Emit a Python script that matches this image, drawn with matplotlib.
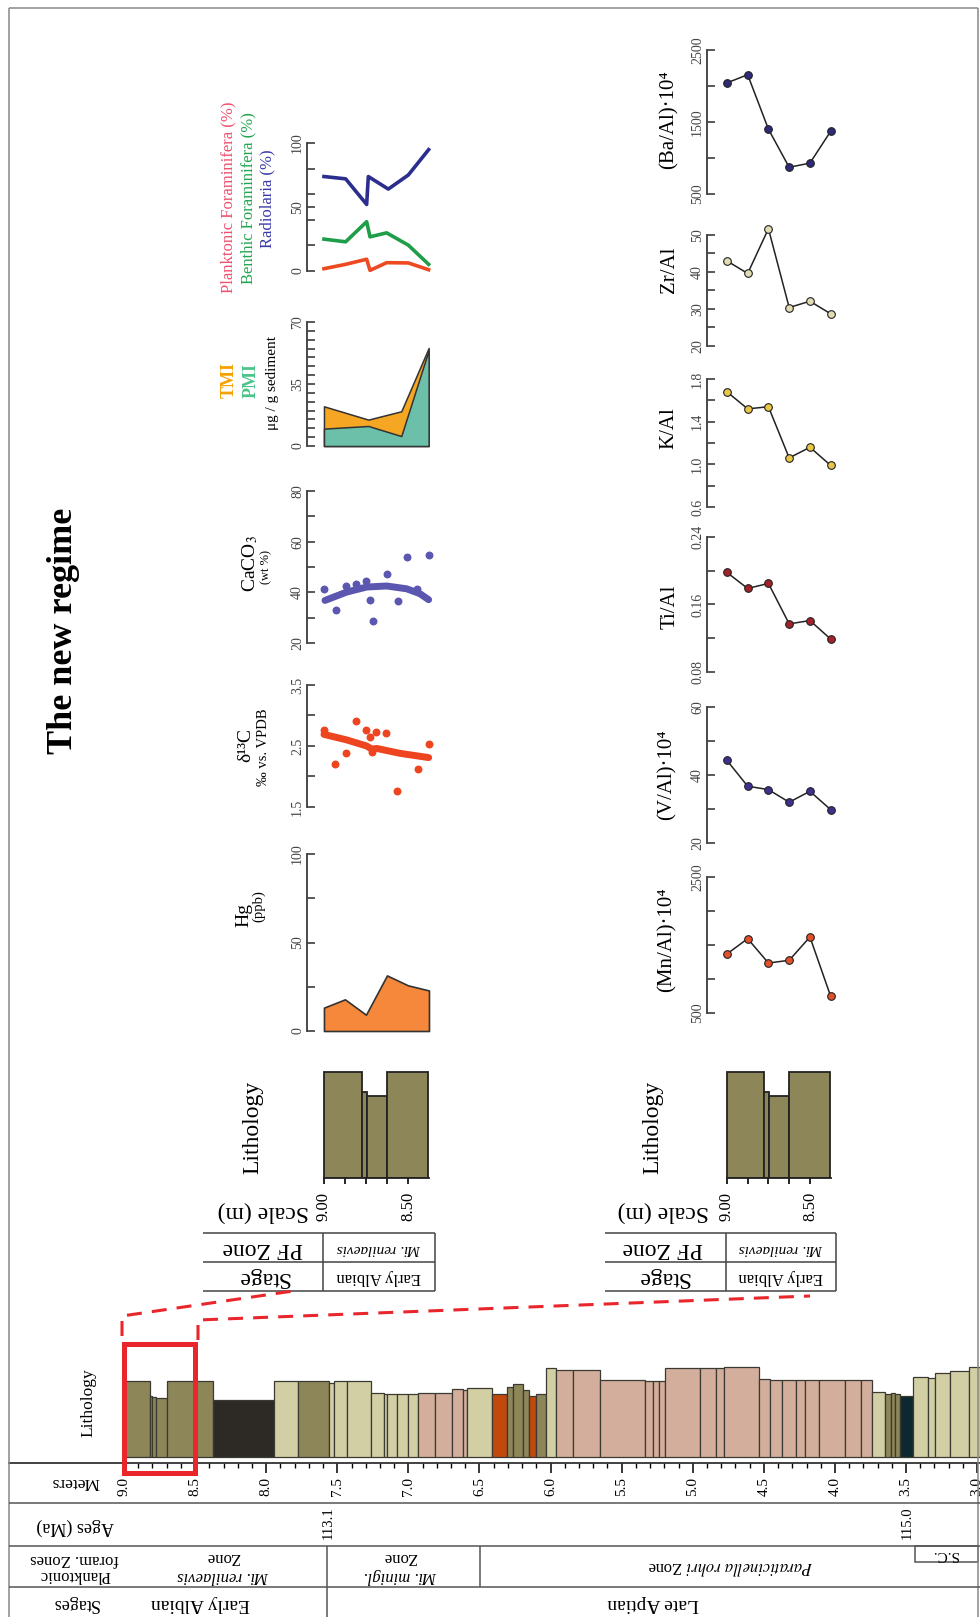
import matplotlib
matplotlib.use("Agg")
import matplotlib.pyplot as plt
from matplotlib.patches import Rectangle

# ---------------- DATA ----------------
# upper panels (Scale, m)
hg_depth = [9.00, 8.875, 8.75, 8.625, 8.50, 8.375]
hg_ppb = [13.2, 17.9, 9.2, 31.4, 25.8, 22.9]

d13c_depth = [9.00, 8.935, 8.869, 8.811, 8.752, 8.726, 8.712, 8.69, 8.631, 8.567, 8.439, 8.377]
d13c_val = [2.77, 2.20, 2.38, 2.91, 2.77, 2.64, 2.40, 2.73, 2.72, 1.76, 2.13, 2.54]
d13c_trend_depth = [9.00, 8.865, 8.746, 8.716, 8.686, 8.548, 8.377]
d13c_trend_val = [2.69, 2.60, 2.50, 2.45, 2.46, 2.38, 2.31]

caco3_depth = [9.00, 8.93, 8.87, 8.81, 8.75, 8.726, 8.71, 8.625, 8.56, 8.506, 8.446, 8.377]
caco3_val = [41.4, 33.2, 42.5, 43.2, 44.3, 37.1, 28.7, 47.4, 36.4, 54.0, 41.2, 54.9]
caco3_trend_depth = [8.994, 8.865, 8.746, 8.627, 8.508, 8.43, 8.377]
caco3_trend_val = [36.8, 40.1, 42.1, 42.5, 41.4, 39.5, 37.1]

mi_depth = [9.00, 8.736, 8.54, 8.377]
tmi_val = [22.4, 14.9, 19.6, 55.3]
pmi_val = [9.8, 11.3, 5.6, 54.0]

rad_depth = [9.00, 8.871, 8.746, 8.736, 8.617, 8.498, 8.377]
rad_val = [73.8, 72.0, 52.0, 73.8, 64.0, 75.0, 94.8]
ben_depth = [9.00, 8.871, 8.746, 8.726, 8.627, 8.498, 8.377]
ben_val = [24.9, 22.8, 38.5, 26.7, 29.8, 20.2, 5.2]
pla_val = [1.8, 5.2, 9.2, 0.5, 6.5, 6.3, 1.0]

# lithology of the zoomed interval
lith_top_left = [9.00, 8.774, 8.744, 8.625]
lith_top_right = [8.774, 8.744, 8.625, 8.38]
lith_top_h = [106, 86, 82, 106]

# lower panels (elemental ratios)
el_depth = [9.00, 8.875, 8.75, 8.625, 8.50, 8.375]
mn_al = [1368, 1593, 1235, 1275, 1618, 745]
v_al = [44.3, 36.7, 35.7, 32.0, 35.2, 29.8]
ti_al = [0.198, 0.179, 0.185, 0.137, 0.141, 0.119]
k_al = [1.68, 1.52, 1.54, 1.06, 1.16, 0.99]
zr_al = [43.0, 39.6, 51.7, 30.4, 32.1, 28.7]
ba_al = [2043, 2157, 1400, 871, 929, 1371]

# full section lithology (Meters)
sec_left = [9.00, 8.82, 8.80, 8.775, 8.70, 8.375, 7.945, 7.775, 7.555, 7.525, 7.435, 7.265, 7.17,
            7.15, 7.08, 7.005, 6.935, 6.81, 6.69, 6.615, 6.59, 6.41, 6.305, 6.265, 6.195, 6.155,
            6.10, 6.03, 5.965, 5.845, 5.65, 5.335, 5.28, 5.235, 5.195, 4.95, 4.835, 4.78, 4.535,
            4.455, 4.375, 4.275, 4.21, 4.11, 3.93, 3.82, 3.74, 3.645, 3.605, 3.575, 3.545, 3.45,
            3.345, 3.295, 3.19, 3.06]
sec_right = sec_left[1:] + [2.98]
sec_h = [76, 61, 60, 59, 76, 57, 76, 76, 74, 76, 76, 64, 63, 63, 63, 63, 64, 64, 68, 67, 69, 63,
         70, 73, 67, 61, 63, 89, 87, 87, 77, 76, 76, 76, 89, 89, 89, 90, 78, 77, 77, 77, 77, 77,
         77, 77, 65, 63, 64, 63, 61, 80, 79, 84, 86, 90]
sec_type = ['O', 'O', 'O', 'O', 'O', 'B', 'L', 'O', 'L', 'L', 'L', 'L', 'L', 'L', 'L', 'L',
            'P', 'P', 'P', 'P', 'L', 'R', 'O', 'O', 'O', 'R', 'O', 'L', 'P', 'P', 'P', 'P',
            'P', 'P', 'P', 'P', 'P', 'P', 'P', 'P', 'P', 'P', 'P', 'P', 'P', 'P', 'L', 'O',
            'O', 'O', 'D', 'L', 'L', 'L', 'L', 'L']

meter_ticks = [9.0, 8.5, 8.0, 7.5, 7.0, 6.5, 6.0, 5.5, 5.0, 4.5, 4.0, 3.5, 3.0]
meter_minor = [round(9.0 - 0.1 * i, 1) for i in range(61)]

# ---------------- STYLE ----------------
W, H = 980, 1617
plt.rcParams['font.family'] = ['Liberation Serif', 'DejaVu Serif']
plt.rcParams['mathtext.fontset'] = 'stix'
AXC = '#3c3c3c'
LITH_COL = {'O': '#8c8658', 'L': '#d3cfa5', 'P': '#d4ae9c', 'R': '#c1490d',
            'B': '#2d2a26', 'D': '#0e2830'}

fig = plt.figure(figsize=(9.8, 16.17), dpi=100)


def add_ax(x0, x1, y0, y1, z=2):
    ax = fig.add_axes([x0 / W, 1 - y1 / H, (x1 - x0) / W, (y1 - y0) / H])
    ax.set_zorder(z)
    ax.patch.set_alpha(0)
    return ax


TOP_X = (307, 432)
TOP_XLIM = (9.101, 8.357)
LOW_X = (707, 835)
LOW_XLIM = (9.120, 8.349)


def value_axis(ax, xlim, ylim, ticks, labels, fs=10):
    ax.set_xlim(*xlim)
    ax.set_ylim(*ylim)
    for s in ['top', 'right', 'bottom']:
        ax.spines[s].set_visible(False)
    ax.spines['left'].set_color(AXC)
    ax.spines['left'].set_linewidth(1.3)
    ax.set_xticks([])
    ax.set_yticks(ticks)
    ax.set_yticklabels(labels, rotation=90, va='center', fontsize=fs, color='#444')
    ax.tick_params(axis='y', direction='in', length=5.5, width=1.2, color=AXC, pad=2)


# ---- Hg
ax = add_ax(*TOP_X, 854, 1031)
value_axis(ax, TOP_XLIM, (0, 100), [0, 25, 50, 75, 100], ['0', '', '50', '', '100'])
ax.fill_between(hg_depth, 0, hg_ppb, facecolor='#f5883a', edgecolor='#333', lw=1.2, clip_on=False)

# ---- d13C
ax = add_ax(*TOP_X, 685, 807)
value_axis(ax, TOP_XLIM, (1.5, 3.5), [1.5, 2.0, 2.5, 3.0, 3.5], ['1.5', '', '2.5', '', '3.5'])
ax.plot(d13c_trend_depth, d13c_trend_val, color='#ee4520', lw=5, solid_capstyle='round')
ax.scatter(d13c_depth, d13c_val, s=22, color='#ee4520', clip_on=False, zorder=3)

# ---- CaCO3
ax = add_ax(*TOP_X, 491, 643)
value_axis(ax, TOP_XLIM, (20, 80), [20, 30, 40, 50, 60, 70, 80],
           ['20', '', '40', '', '60', '', '80'])
ax.plot(caco3_trend_depth, caco3_trend_val, color='#5b57b0', lw=5, solid_capstyle='round')
ax.scatter(caco3_depth, caco3_val, s=22, color='#5b57b0', clip_on=False, zorder=3)

# ---- TMI / PMI
ax = add_ax(*TOP_X, 322, 446)
mt = list(range(0, 71, 5))
value_axis(ax, TOP_XLIM, (0, 70), mt,
           ['0' if t == 0 else '35' if t == 35 else '70' if t == 70 else '' for t in mt])
ax.fill_between(mi_depth, 0, tmi_val, facecolor='#f5a623', edgecolor='#333', lw=1.1, clip_on=False)
ax.fill_between(mi_depth, 0, pmi_val, facecolor='#6cc0aa', edgecolor='#333', lw=1.1, clip_on=False)

# ---- Foraminifera / Radiolaria
ax = add_ax(*TOP_X, 143, 271)
value_axis(ax, TOP_XLIM, (0, 100), [0, 20, 40, 50, 60, 80, 100], ['0', '', '', '50', '', '', '100'])
ax.plot(rad_depth, rad_val, color='#2b2e8c', lw=2.6, clip_on=False)
ax.plot(ben_depth, ben_val, color='#1e9e48', lw=2.6, clip_on=False)
ax.plot(ben_depth, pla_val, color='#ee4a22', lw=2.6, clip_on=False)

# ---- elemental ratios
elem = [
    (877, 1013, (500, 2500), [500, 1000, 1500, 2000, 2500], ['500', '', '', '', '2500'], mn_al, '#e4502a'),
    (707, 843, (20, 60), [20, 30, 40, 50, 60], ['20', '', '40', '', '60'], v_al, '#3f2f8f'),
    (537, 672, (0.08, 0.24), [0.08, 0.12, 0.16, 0.20, 0.24], ['0.08', '', '0.16', '', '0.24'], ti_al, '#a3222a'),
    (379, 507, (0.6, 1.8), [0.6, 0.8, 1.0, 1.2, 1.4, 1.6, 1.8], ['0.6', '', '1.0', '', '1.4', '', '1.8'], k_al, '#e9c646'),
    (235, 346, (20, 50), [20, 25, 30, 35, 40, 45, 50], ['20', '', '30', '', '40', '', '50'], zr_al, '#e2dcb4'),
    (50, 194, (500, 2500), [500, 1000, 1500, 2000, 2500], ['500', '', '1500', '', '2500'], ba_al, '#2e2a7a'),
]
for y0, y1, lim, tks, lbl, vals, col in elem:
    ax = add_ax(*LOW_X, y0, y1)
    value_axis(ax, LOW_XLIM, lim, tks, lbl, fs=10)
    ax.plot(el_depth, vals, color='#222', lw=1.1, marker='o', ms=5.5, mfc=col, mec='#222',
            mew=0.8, clip_on=False)

# ---- zoomed lithology columns (upper and lower)
for xa, xlim in [((307, 432), TOP_XLIM), ((707, 835), LOW_XLIM)]:
    ax = add_ax(*xa, 1060, 1178)
    ax.set_xlim(*xlim)
    ax.set_ylim(0, 118)
    ax.bar(x=lith_top_right, height=lith_top_h,
           width=[l - r for l, r in zip(lith_top_left, lith_top_right)],
           align='edge', color=LITH_COL['O'], edgecolor='#222', lw=1.3)
    for s in ['top', 'right', 'left']:
        ax.spines[s].set_visible(False)
    ax.spines['bottom'].set_bounds(9.0, 8.375)
    ax.spines['bottom'].set_linewidth(1.3)
    ax.spines['bottom'].set_color('#222')
    ax.set_yticks([])
    ax.set_xticks([9.0, 8.875, 8.75, 8.625, 8.5])
    ax.set_xticklabels(['9.00', '', '', '', '8.50'], rotation=90, fontsize=12)
    ax.tick_params(axis='x', direction='out', length=4, width=1.2, pad=6)

# ---- full section column
ax = add_ax(9, 980, 1340, 1463)
ax.set_xlim(9.809, 2.980)
ax.set_ylim(-6, 117)
ax.bar(x=sec_right, height=sec_h, width=[l - r for l, r in zip(sec_left, sec_right)],
       align='edge', color=[LITH_COL[t] for t in sec_type], edgecolor='#3a3a32', lw=0.9)
for s in ['top', 'right', 'left']:
    ax.spines[s].set_visible(False)
ax.spines['bottom'].set_linewidth(1.3)
ax.spines['bottom'].set_color('#333')
ax.set_yticks([])
ax.set_xticks(meter_minor, minor=True)
ax.set_xticks(meter_ticks)
ax.set_xticklabels([f'{t:.1f}' for t in meter_ticks], rotation=90, fontsize=11)
ax.tick_params(axis='x', which='major', direction='out', length=7, width=1.1, pad=3)
ax.tick_params(axis='x', which='minor', direction='out', length=3.5, width=1.0)

# ---------------- OVERLAY (text, tables, frame) ----------------
ov = fig.add_axes([0, 0, 1, 1])
ov.set_xlim(0, W)
ov.set_ylim(H, 0)
ov.axis('off')
ov.set_zorder(10)
ov.patch.set_alpha(0)


def line(xs, ys, **kw):
    kw.setdefault('color', '#555')
    kw.setdefault('lw', 1.1)
    ov.plot(xs, ys, solid_capstyle='butt', **kw)


def txt(x, y, s, rot=90, fs=12, **kw):
    ov.text(x, y, s, rotation=rot, fontsize=fs, ha='center', va='center', **kw)


# frame
line([9, 9], [8, 1617], color='#888')
line([9, 978], [8, 8], color='#888')
line([978, 978], [8, 1617], color='#888')

txt(64, 631, 'The new regime', fs=26, fontweight='bold')

# upper / lower tables
for x0, xv, x1, xl, xc in [(203, 323, 435, 263, 379), (605, 726, 836, 663, 781)]:
    for y in [1233, 1262, 1291]:
        line([x0, x1], [y, y], color='#444')
    line([xv, xv], [1233, 1291], color='#444')
    line([x1, x1], [1233, 1291], color='#444')
    txt(xl, 1212, 'Scale (m)', rot=180, fs=17)
    txt(xl, 1248, 'PF Zone', rot=180, fs=17)
    txt(xl, 1277, 'Stage', rot=180, fs=17)
    txt(xc, 1248, 'Mi. renilaevis', rot=180, fs=11, fontstyle='italic')
    txt(xc, 1277, 'Early Albian', rot=180, fs=12)
    txt(xl - 10, 1127, 'Lithology', fs=17)

# upper panel labels
txt(244, 915, 'Hg', fs=14)
txt(259, 906, '(ppb)', fs=10.5)
txt(246, 745, 'δ¹³C', fs=14)
txt(263, 747, '‰ vs. VPDB', fs=10.5)
txt(250, 564, r'CaCO$_3$', fs=14)
txt(266, 567, '(wt %)', fs=9)
txt(229, 380, 'TMI', fs=13, fontweight='bold', color='#f5a000')
txt(251, 381, 'PMI', fs=13, fontweight='bold', color='#4cc38a')
txt(272, 383, 'μg / g sediment', fs=11)
txt(228, 197, 'Planktonic Foraminifera (%)', fs=12, color='#f0506e')
txt(248, 198, 'Benthic Foraminifera (%)', fs=12, color='#22a650')
txt(267, 199, 'Radiolaria (%)', fs=12, color='#3a3aa8')

# lower panel labels
txt(667, 940, '(Mn/Al)·10⁴', fs=15)
txt(667, 775, '(V/Al)·10⁴', fs=15)
txt(670, 607, 'Ti/Al', fs=15)
txt(669, 428, 'K/Al', fs=15)
txt(669, 270, 'Zr/Al', fs=15)
txt(669, 120, '(Ba/Al)·10⁴', fs=15)

# red zoom indicators
RED = '#e8262b'
ov.add_patch(Rectangle((124, 1344), 70.5, 128.5, fill=False, edgecolor=RED, lw=3.6, zorder=12))
ov.plot([122, 122, 300], [1336, 1316, 1290], color=RED, lw=2.2, dashes=(4.9, 3.3), zorder=12)
ov.plot([198, 198, 810], [1340, 1320, 1296], color=RED, lw=2.2, dashes=(4.9, 3.3), zorder=12)

# bottom section table
for y in [1503, 1546, 1587]:
    line([9, 980], [y, y])
line([327, 327], [1546, 1617])
line([480, 480], [1546, 1587])
ov.add_patch(Rectangle((915, 1546), 63, 16, fill=False, edgecolor='#555', lw=1.1))
txt(88, 1403, 'Lithology', fs=12.5)
txt(75, 1482, 'Meters', rot=180, fs=12.5)
txt(75, 1527, 'Ages (Ma)', rot=180, fs=13)
txt(75, 1567, 'Planktonic\nforam. Zones', rot=180, fs=12, linespacing=1.0)
txt(75, 1603, 'Stages', rot=180, fs=13)
txt(328, 1523, '113.1', fs=10.5)
txt(907, 1523, '115.0', fs=10.5)
txt(223, 1576, 'Mi. renilaevis', rot=180, fs=12, fontstyle='italic')
txt(223, 1557, 'Zone', rot=180, fs=12)
txt(400, 1576, 'Mi. minigl.', rot=180, fs=12, fontstyle='italic')
txt(400, 1557, 'Zone', rot=180, fs=12)
txt(730, 1566, r'$\mathit{Paraticinella\ rohri}$ Zone', rot=180, fs=12)
txt(945, 1554, 'S.C.', rot=180, fs=11)
txt(200, 1603, 'Early Albian', rot=180, fs=14)
txt(653, 1603, 'Late Aptian', rot=180, fs=14)

fig.savefig('out.png', dpi=100)
